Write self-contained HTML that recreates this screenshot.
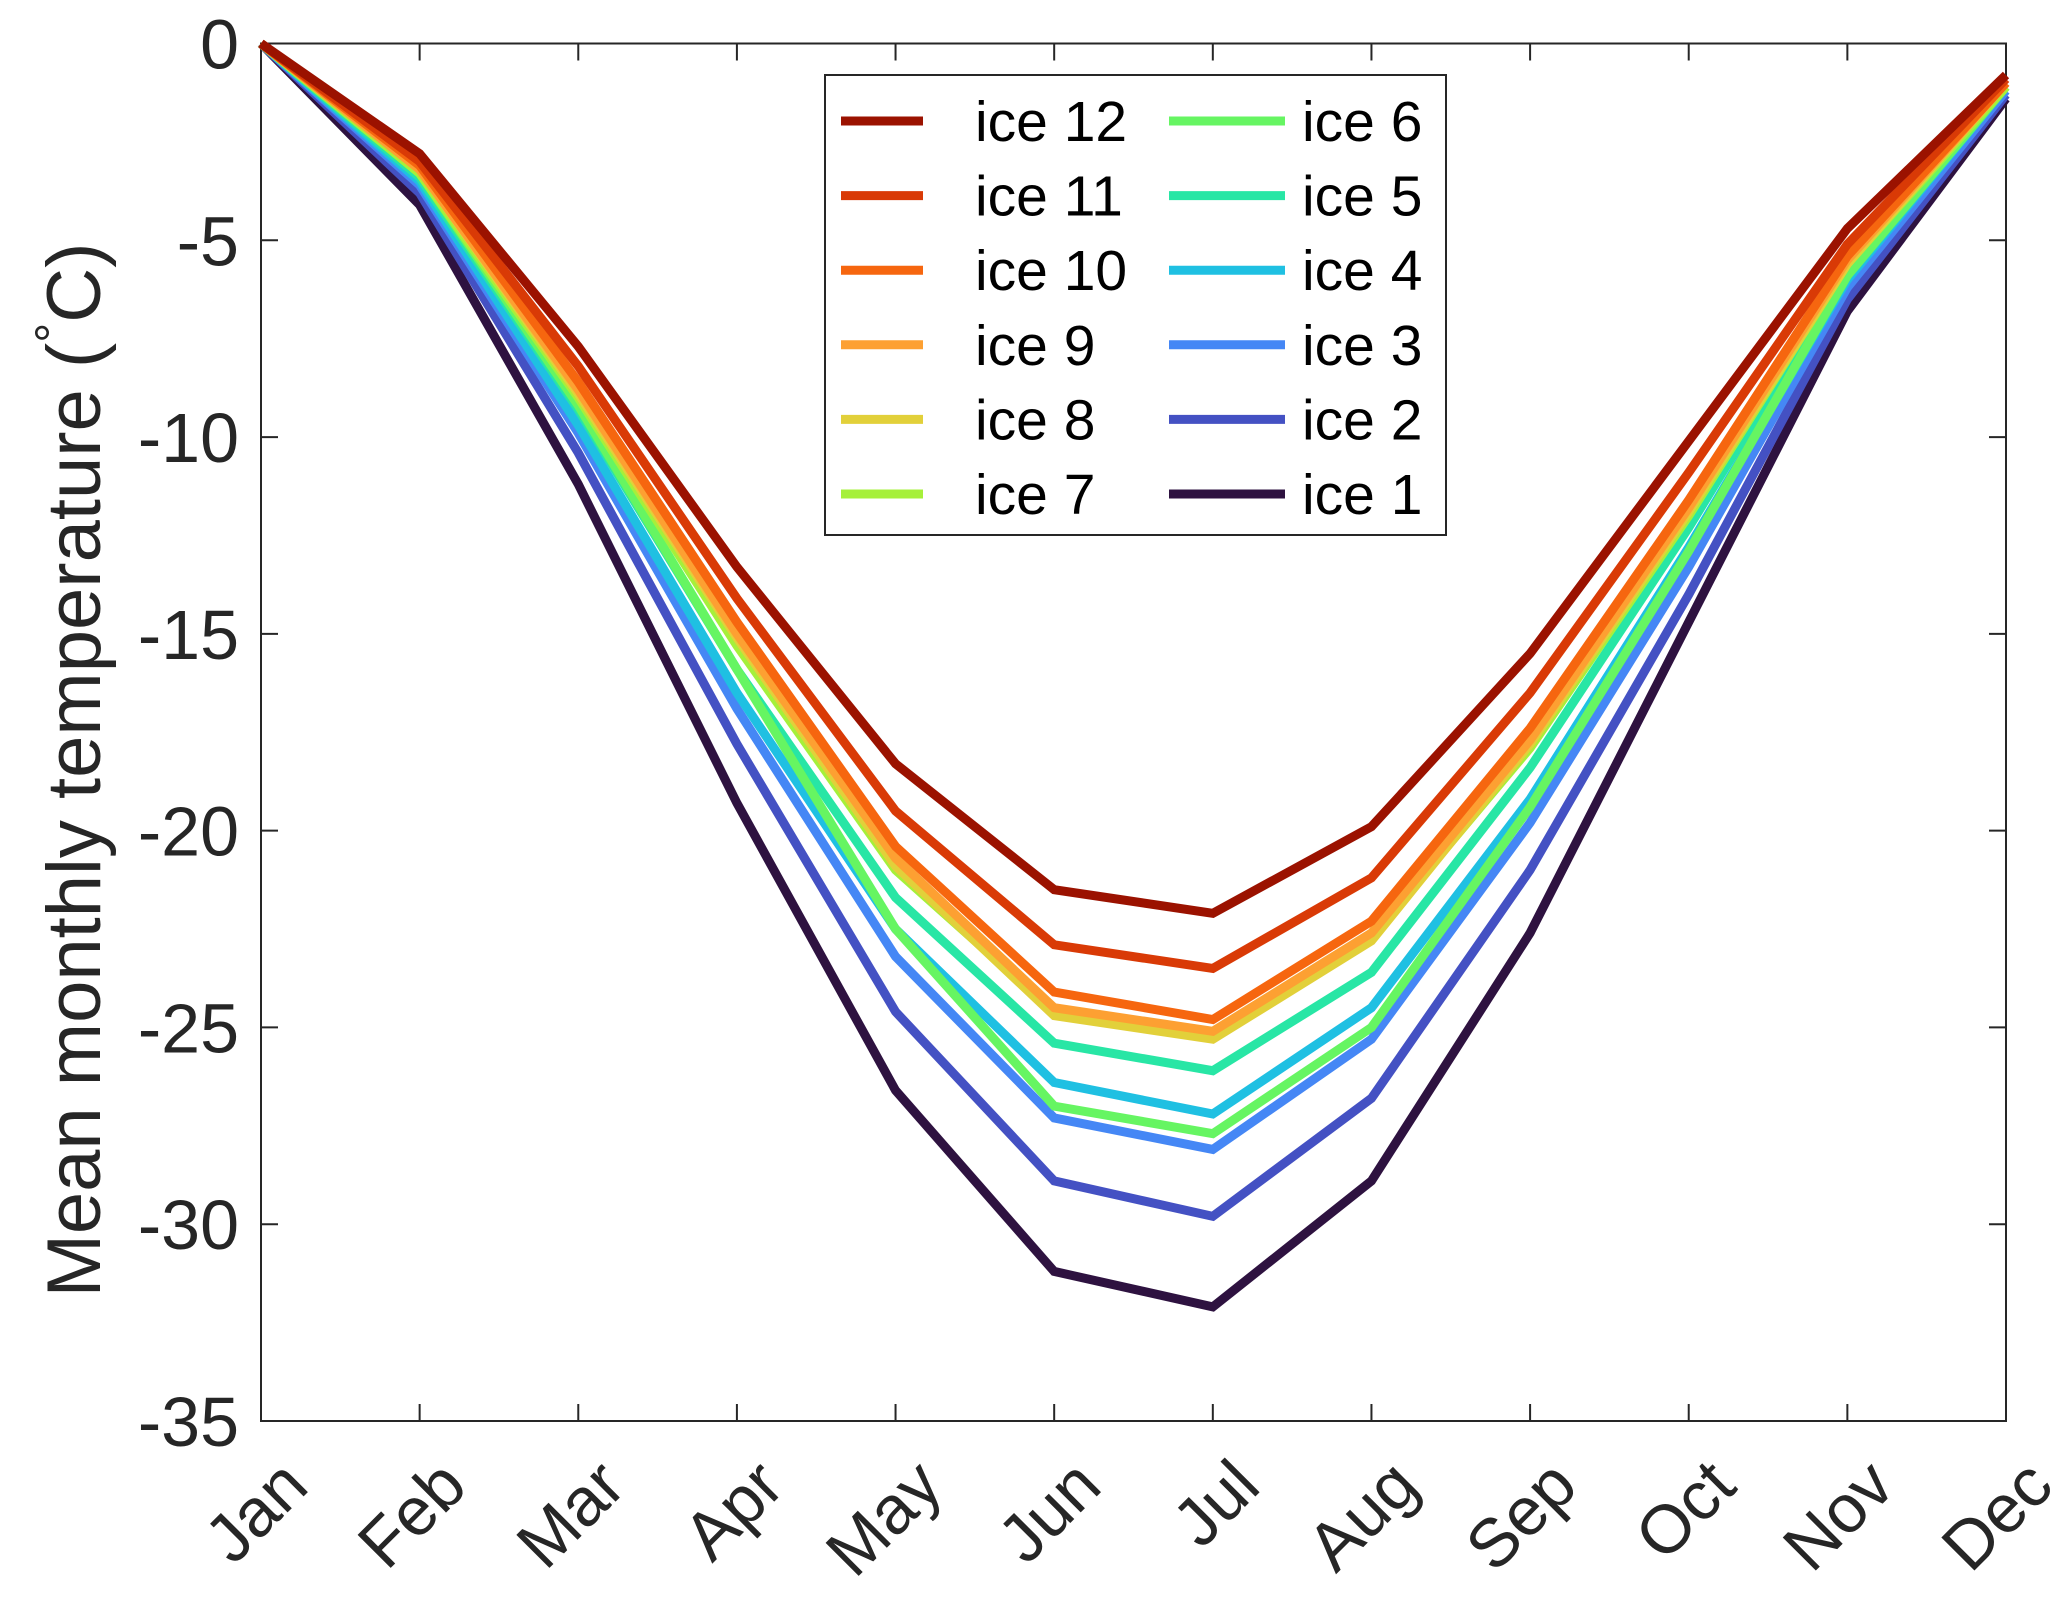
<!DOCTYPE html>
<html><head><meta charset="utf-8"><style>
html,body{margin:0;padding:0;background:#fff;}
svg{display:block;font-family:"Liberation Sans",Arial,sans-serif;}
</style></head><body>
<svg id="chart" width="2067" height="1606" viewBox="0 0 2067 1606"></svg>
<script>
const months=["Jan","Feb","Mar","Apr","May","Jun","Jul","Aug","Sep","Oct","Nov","Dec"];
const yTicks=[0,-5,-10,-15,-20,-25,-30,-35];
const seriesNames=["ice 12","ice 11","ice 10","ice 9","ice 8","ice 7","ice 6","ice 5","ice 4","ice 3","ice 2","ice 1"];
const seriesColors=["#9b1200","#d93a06","#f6660f","#fda032","#e2d03a","#a6f03a","#66f562","#28e6a5","#1fc0e2","#4587f5","#4451c3","#2e1240"];
const ice12=[0,-2.8,-7.7,-13.3,-18.3,-21.5,-22.1,-19.9,-15.5,-10.1,-4.7,-0.8];
const ice11=[0,-3.0,-8.2,-14.1,-19.5,-22.9,-23.5,-21.2,-16.5,-10.9,-5.1,-0.9];
const ice10=[0,-3.1,-8.6,-14.7,-20.4,-24.1,-24.8,-22.3,-17.4,-11.6,-5.4,-1.0];
const ice9=[0,-3.2,-8.8,-15.0,-20.7,-24.5,-25.1,-22.6,-17.7,-11.8,-5.5,-1.0];
const ice8=[0,-3.2,-8.9,-15.1,-20.9,-24.7,-25.3,-22.8,-17.8,-11.9,-5.6,-1.0];
const ice7=[0,-3.3,-9.0,-15.3,-21.0,-24.6,-25.2,-22.7,-17.9,-12.0,-5.6,-1.1];
const ice6=[0,-3.3,-9.2,-15.9,-22.5,-27.0,-27.7,-25.0,-19.4,-12.9,-5.9,-1.1];
const ice5=[0,-3.4,-9.3,-15.9,-21.7,-25.4,-26.1,-23.6,-18.4,-12.3,-5.7,-1.1];
const ice4=[0,-3.5,-9.7,-16.5,-22.5,-26.4,-27.2,-24.5,-19.2,-12.8,-6.0,-1.1];
const ice3=[0,-3.6,-9.9,-16.9,-23.2,-27.3,-28.1,-25.3,-19.8,-13.3,-6.2,-1.2];
const ice2=[0,-3.8,-10.4,-17.8,-24.6,-28.9,-29.8,-26.8,-21.0,-14.0,-6.5,-1.3];
const ice1=[0,-4.1,-11.2,-19.3,-26.6,-31.2,-32.1,-28.9,-22.6,-14.7,-6.8,-1.4];
const seriesValues=[ice12,ice11,ice10,ice9,ice8,ice7,ice6,ice5,ice4,ice3,ice2,ice1];

const svg=document.getElementById('chart');
const NS="http://www.w3.org/2000/svg";
const L=261,R=2006,T=43.5,B=1421;
const yMin=-35,yMax=0;
function xs(i){return L+(R-L)*i/(months.length-1);}
function ys(v){return T+(B-T)*(yMax-v)/(yMax-yMin);}
function mk(tag,attrs,parent){const e=document.createElementNS(NS,tag);for(const k in attrs)e.setAttribute(k,attrs[k]);(parent||svg).appendChild(e);return e;}

const box=mk('rect',{x:L,y:T,width:R-L,height:B-T,fill:'none',stroke:'#262626','stroke-width':2});



yTicks.forEach(v=>{
  const y=ys(v);
  const t1=mk('line',{x1:L,x2:L+17,y1:y,y2:y,stroke:'#262626','stroke-width':2});
  
  
  const t2=mk('line',{x1:R,x2:R-17,y1:y,y2:y,stroke:'#262626','stroke-width':2});
  
  
  const tx=mk('text',{x:L-22,y:y+25,'text-anchor':'end','font-size':70,fill:'#262626'});
  tx.textContent=String(v);
  
  
});
months.forEach((m,i)=>{
  const x=xs(i);
  const t1=mk('line',{x1:x,x2:x,y1:B,y2:B-17,stroke:'#262626','stroke-width':2});
  
  
  const t2=mk('line',{x1:x,x2:x,y1:T,y2:T+17,stroke:'#262626','stroke-width':2});
  
  
  const ax=x+50,ay=B+68;
  const tx=mk('text',{x:ax,y:ay,'text-anchor':'end','font-size':68,fill:'#262626',transform:`rotate(-45 ${ax} ${ay})`});
  tx.textContent=m;
  
  
});
const yt=mk('text',{x:0,y:0,'text-anchor':'middle','font-size':76,fill:'#262626',transform:'translate(100 770) rotate(-90)'});
yt.innerHTML='Mean monthly temperature (<tspan dy="-30" font-size="50">°</tspan><tspan dy="30">C)</tspan>';



for(let s=seriesValues.length-1;s>=0;s--){
  const pts=seriesValues[s].map((v,i)=>xs(i)+','+ys(v)).join(' ');
  const pl=mk('polyline',{points:pts,fill:'none',stroke:seriesColors[s],'stroke-width':9,'stroke-linejoin':'miter'});
  
  
}

const lg=mk('g',{});


const lb=mk('rect',{x:825,y:75,width:621,height:460,fill:'#fff',stroke:'#262626','stroke-width':2},lg);


seriesNames.forEach((n,i)=>{
  const col=Math.floor(i/6),row=i%6;
  const y=121+row*74.6;
  const x0=col?1169:841,x1=col?1285:923,tx=col?1302:975;
  const l=mk('line',{x1:x0,x2:x1,y1:y,y2:y,stroke:seriesColors[i],'stroke-width':9},lg);
  
  
  const t=mk('text',{x:tx,y:y+20,'font-size':57,fill:'#000'},lg);
  t.textContent=n;
  
  
});
</script>
</body></html>
